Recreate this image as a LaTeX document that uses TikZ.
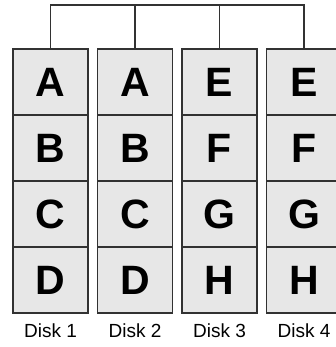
\documentclass[tikz,border=0pt]{standalone}
\usepackage{fontspec}
\setmainfont{Liberation Sans}
\usetikzlibrary{positioning}
\definecolor{cellgray}{RGB}{231,231,231}
\definecolor{edgegray}{RGB}{50,50,50}

\begin{document}
\begin{tikzpicture}[x=1pt, y=-1pt,
    cell/.style={rectangle, draw=edgegray, line width=1.8pt, fill=cellgray, minimum width=75pt, minimum height=66pt, outer sep=0pt, inner sep=0pt, font=\fontsize{41}{41}\selectfont\bfseries},
    disk/.style={inner sep=0pt, font=\fontsize{19}{19}\selectfont},
    link/.style={draw=edgegray, line width=1.8pt}
]
    \useasboundingbox (0,0) rectangle (336,347);
    \coordinate (bus) at (0,5);

    % disk 1
    \node[cell] (d1a) at (50.5,82) {A};
    \node[cell, below=0pt of d1a] (d1b) {B};
    \node[cell, below=0pt of d1b] (d1c) {C};
    \node[cell, below=0pt of d1c] (d1d) {D};
    \node[disk, below=11pt of d1d] (l1) {Disk 1};

    % disk 2
    \node[cell, right=9.5pt of d1a] (d2a) {A};
    \node[cell, below=0pt of d2a] (d2b) {B};
    \node[cell, below=0pt of d2b] (d2c) {C};
    \node[cell, below=0pt of d2c] (d2d) {D};
    \node[disk, below=11pt of d2d] (l2) {Disk 2};

    % disk 3
    \node[cell, right=9.5pt of d2a] (d3a) {E};
    \node[cell, below=0pt of d3a] (d3b) {F};
    \node[cell, below=0pt of d3b] (d3c) {G};
    \node[cell, below=0pt of d3c] (d3d) {H};
    \node[disk, below=11pt of d3d] (l3) {Disk 3};

    % disk 4
    \node[cell, right=9.5pt of d3a] (d4a) {E};
    \node[cell, below=0pt of d4a] (d4b) {F};
    \node[cell, below=0pt of d4b] (d4c) {G};
    \node[cell, below=0pt of d4c] (d4d) {H};
    \node[disk, below=11pt of d4d] (l4) {Disk 4};

    \draw[link] (d1a.north) -- (d1a.north |- bus) -- (d4a.north |- bus) -- (d4a.north);
    \draw[link] (d2a.north) -- (d2a.north |- bus);
    \draw[link] (d3a.north) -- (d3a.north |- bus);
\end{tikzpicture}
\end{document}
